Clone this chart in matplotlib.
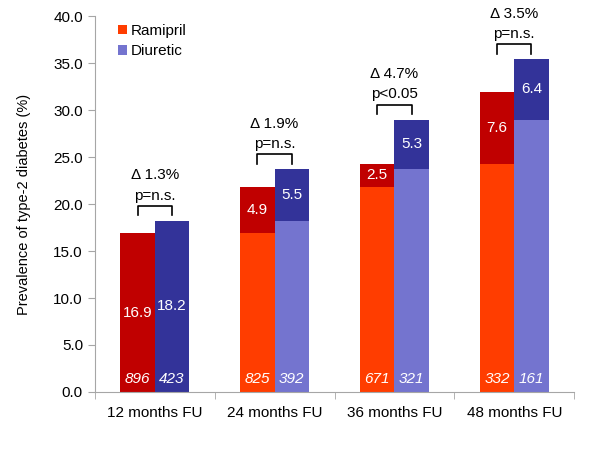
import numpy as np
import matplotlib.pyplot as plt
from matplotlib.patches import Patch

plt.rcParams['font.family'] = ['Liberation Sans', 'DejaVu Sans']

categories = ['12 months FU', '24 months FU', '36 months FU', '48 months FU']
# prevalence carried over from previous visit, and increment at this visit
ram_prev = [0.0, 16.9, 21.8, 24.3]
ram_inc = [16.9, 4.9, 2.5, 7.6]
diu_prev = [0.0, 18.2, 23.7, 29.0]
diu_inc = [18.2, 5.5, 5.3, 6.4]
ram_n = [896, 825, 671, 332]
diu_n = [423, 392, 321, 161]
delta = [1.3, 1.9, 4.7, 3.5]
pvals = ['p=n.s.', 'p=n.s.', 'p<0.05', 'p=n.s.']

c_ram_dark = '#C00000'
c_ram_light = '#FF3D00'
c_diu_dark = '#333399'
c_diu_light = '#7474CF'
axis_col = '#A6A6A6'

fig = plt.figure(figsize=(6, 4.5), dpi=100)
ax = fig.add_axes([0.158, 0.129, 0.799, 0.835])

x = np.arange(len(categories))
w = 0.287
xr = x - w / 2
xd = x + w / 2

ax.bar(xr, ram_prev, w, color=c_ram_light)
ax.bar(xr, ram_inc, w, bottom=ram_prev, color=c_ram_dark)
ax.bar(xd, diu_prev, w, color=c_diu_light)
ax.bar(xd, diu_inc, w, bottom=diu_prev, color=c_diu_dark)

for i in range(len(categories)):
    # increment labels
    ax.text(xr[i], ram_prev[i] + ram_inc[i] / 2, '%.1f' % ram_inc[i], color='white',
            ha='center', va='center', fontsize=11)
    ax.text(xd[i], diu_prev[i] + diu_inc[i] / 2, '%.1f' % diu_inc[i], color='white',
            ha='center', va='center', fontsize=11)
    # n labels
    ax.text(xr[i], 1.4, str(ram_n[i]), color='white', ha='center', va='center',
            fontsize=11, style='italic')
    ax.text(xd[i], 1.4, str(diu_n[i]), color='white', ha='center', va='center',
            fontsize=11, style='italic')
    # bracket
    top = max(ram_prev[i] + ram_inc[i], diu_prev[i] + diu_inc[i]) + 1.6
    ax.plot([xr[i], xr[i], xd[i], xd[i]], [top - 1.0, top, top, top - 1.0],
            color='black', lw=1.2)
    ax.text(x[i], top + 0.35, pvals[i], ha='center', va='bottom', fontsize=11)
    ax.text(x[i], top + 2.5, '\u0394 %.1f%%' % delta[i], ha='center', va='bottom', fontsize=11)

ax.set_xlim(-0.5, len(categories) - 0.5)
ax.set_ylim(0, 40)
ax.set_yticks(np.arange(0, 41, 5))
ax.set_yticklabels(['%.1f' % v for v in np.arange(0, 41, 5)], fontsize=11)
ax.set_xticks(x)
ax.set_xticklabels(categories, fontsize=11)
ax.set_xticks(np.arange(-0.5, len(categories), 1), minor=True)
ax.tick_params(axis='x', which='major', length=0, pad=10)
ax.tick_params(axis='x', which='minor', length=5, color=axis_col)
ax.tick_params(axis='y', length=5, color=axis_col)
ax.set_ylabel('Prevalence of type-2 diabetes (%)', fontsize=10.5, labelpad=16)

for s in ['top', 'right']:
    ax.spines[s].set_visible(False)
for s in ['left', 'bottom']:
    ax.spines[s].set_color(axis_col)

legend_elements = [Patch(facecolor=c_ram_light, label='Ramipril'),
                   Patch(facecolor=c_diu_light, label='Diuretic')]
ax.legend(handles=legend_elements, loc='upper left', fontsize=11, frameon=False,
          handlelength=0.55, handleheight=0.55, handletextpad=0.3, labelspacing=0.45,
          bbox_to_anchor=(0.02, 1.017))

fig.savefig('out.png', dpi=100)
